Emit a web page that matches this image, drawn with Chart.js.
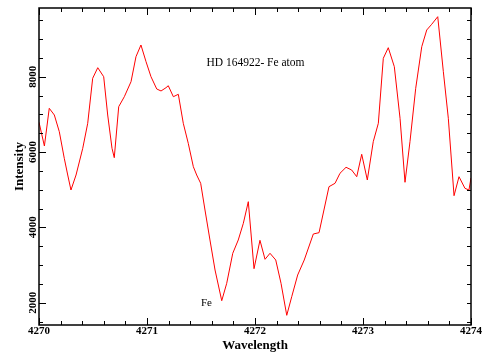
<!DOCTYPE html>
<html>
<head>
<meta charset="utf-8">
<script src="https://cdn.jsdelivr.net/npm/chart.js@4.4.1/dist/chart.umd.min.js"></script>
<style>
  html, body { margin: 0; padding: 0; background: #fff; }
  #wrap { width: 484px; height: 358px; }
</style>
</head>
<body>
<div id="wrap"><canvas id="c" width="484" height="358"></canvas></div>
<script>
// Fe line region of HD 164922: wavelength (Å) and measured intensity
const wavelength = [
  4270.000, 4270.050, 4270.095, 4270.142, 4270.188, 4270.234, 4270.266, 4270.296, 4270.343, 4270.405,
  4270.451, 4270.497, 4270.544, 4270.599, 4270.636, 4270.676, 4270.697, 4270.738, 4270.790, 4270.852,
  4270.898, 4270.944, 4270.991, 4271.037, 4271.090, 4271.130, 4271.176, 4271.197, 4271.244, 4271.290,
  4271.336, 4271.382, 4271.429, 4271.460, 4271.497, 4271.537, 4271.583, 4271.630, 4271.692, 4271.738,
  4271.794, 4271.845, 4271.892, 4271.938, 4271.991, 4272.046, 4272.093, 4272.139, 4272.192, 4272.241,
  4272.294, 4272.340, 4272.395, 4272.456, 4272.540, 4272.593, 4272.685, 4272.741, 4272.787, 4272.843,
  4272.895, 4272.942, 4272.988, 4273.040, 4273.095, 4273.142, 4273.188, 4273.234, 4273.290, 4273.343,
  4273.389, 4273.435, 4273.488, 4273.544, 4273.590, 4273.636, 4273.692, 4273.744, 4273.790, 4273.843,
  4273.889, 4273.944, 4273.981, 4274.000
];
const intensity = [
  6790, 6160, 7161, 6983, 6540, 5834, 5390, 4992, 5390, 6099,
  6763, 7958, 8239, 8000, 6983, 6099, 5850, 7204, 7469, 7868,
  8531, 8842, 8399, 8000, 7674, 7621, 7708, 7761, 7469, 7533,
  6763, 6232, 5611, 5390, 5170, 4461, 3665, 2868, 2053, 2515,
  3312, 3665, 4108, 4682, 2903, 3657, 3152, 3312, 3134, 2515,
  1665, 2159, 2735, 3134, 3824, 3859, 5080, 5170, 5436, 5595,
  5523, 5345, 5940, 5258, 6275, 6763, 8489, 8770, 8266, 6896,
  5197, 6275, 7692, 8797, 9240, 9391, 9593, 8133, 6896, 4841,
  5345, 5037, 4992, 5311
];

// Axis ticks and labels
const xTicks = [4270, 4271, 4272, 4273, 4274];
const yTicks = [2000, 4000, 6000, 8000];
const xMinorStep = 0.2;
const yMinorStep = 500;
const xRange = [4270, 4274];
const yRange = [1408, 9824];

// In-plot annotations: [text, wavelength, intensity]
const titleNote = ['HD 164922- Fe atom', 4271.55, 8372];
const lineNote = ['Fe', 4271.5, 2000];

const SERIF = '"Liberation Serif", "Times New Roman", serif';

// Frame, inward tick marks, rotated y labels and text notes
const framePlugin = {
  id: 'frame',
  afterDraw(chart) {
    const { ctx, chartArea: a, scales: { x, y } } = chart;
    ctx.save();
    ctx.strokeStyle = '#000';
    ctx.lineWidth = 1.5;
    ctx.strokeRect(a.left, a.top, a.right - a.left, a.bottom - a.top);

    ctx.lineWidth = 1;
    const isMajor = (v, list) => list.some(t => Math.abs(t - v) < 1e-6);
    ctx.beginPath();
    for (let v = xRange[0]; v <= xRange[1] + 1e-9; v += xMinorStep) {
      const px = Math.round(x.getPixelForValue(v)) + 0.5;
      const len = isMajor(v, xTicks) ? 7 : 4;
      ctx.moveTo(px, a.bottom); ctx.lineTo(px, a.bottom - len);
      ctx.moveTo(px, a.top); ctx.lineTo(px, a.top + len);
    }
    for (let v = Math.ceil(yRange[0] / yMinorStep) * yMinorStep; v <= yRange[1]; v += yMinorStep) {
      const py = Math.round(y.getPixelForValue(v)) + 0.5;
      const len = isMajor(v, yTicks) ? 7 : 4;
      ctx.moveTo(a.left, py); ctx.lineTo(a.left + len, py);
      ctx.moveTo(a.right, py); ctx.lineTo(a.right - 4, py);
    }
    ctx.stroke();

    // y tick labels, reading upward
    ctx.fillStyle = '#000';
    ctx.font = 'bold 11px ' + SERIF;
    ctx.textAlign = 'center';
    ctx.textBaseline = 'middle';
    yTicks.forEach(v => {
      ctx.save();
      ctx.translate(a.left - 6, y.getPixelForValue(v));
      ctx.rotate(-Math.PI / 2);
      ctx.fillText(String(v), 0, 0);
      ctx.restore();
    });

    // notes
    ctx.textAlign = 'left';
    ctx.font = '11.5px ' + SERIF;
    ctx.fillText(titleNote[0], x.getPixelForValue(titleNote[1]), y.getPixelForValue(titleNote[2]));
    ctx.font = '11px ' + SERIF;
    ctx.fillText(lineNote[0], x.getPixelForValue(lineNote[1]), y.getPixelForValue(lineNote[2]));
    ctx.restore();
  }
};

new Chart(document.getElementById('c'), {
  type: 'line',
  data: {
    datasets: [{
      data: wavelength.map((w, i) => ({ x: w, y: intensity[i] })),
      borderColor: '#ff0000',
      borderWidth: 1,
      pointRadius: 0,
      tension: 0,
      fill: false
    }]
  },
  options: {
    responsive: false,
    devicePixelRatio: 1,
    animation: false,
    layout: { padding: { left: 0, right: 13, top: 8, bottom: 0 } },
    plugins: { legend: { display: false }, tooltip: { enabled: false } },
    scales: {
      x: {
        type: 'linear',
        min: xRange[0],
        max: xRange[1],
        grid: { display: false, drawTicks: false },
        border: { display: false },
        afterBuildTicks: s => { s.ticks = xTicks.map(v => ({ value: v })); },
        afterFit: s => { s.height = 33; },
        ticks: {
          autoSkip: false,
          maxRotation: 0,
          padding: 0,
          color: '#000',
          font: { family: SERIF, size: 11, weight: 'bold' },
          callback: v => String(v)
        },
        title: {
          display: true,
          text: 'Wavelength',
          color: '#000',
          font: { family: SERIF, size: 13, weight: 'bold' },
          padding: { top: 0, bottom: 5 }
        }
      },
      y: {
        type: 'linear',
        min: yRange[0],
        max: yRange[1],
        grid: { display: false, drawTicks: false },
        border: { display: false },
        afterFit: s => { s.width = 39; },
        ticks: { display: false, stepSize: 2000, includeBounds: false },
        title: {
          display: true,
          text: 'Intensity',
          color: '#000',
          font: { family: SERIF, size: 13, weight: 'bold' },
          padding: { top: 12, bottom: 0 }
        }
      }
    }
  },
  plugins: [framePlugin]
});
</script>
</body>
</html>
